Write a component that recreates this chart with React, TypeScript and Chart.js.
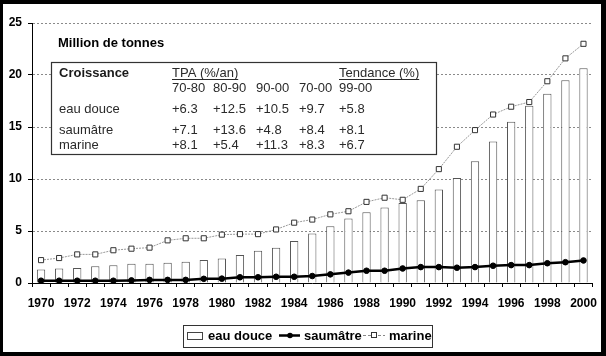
import React, { useEffect, useRef } from 'react';
import { Chart, registerables } from 'chart.js';

Chart.register(...registerables);

const years = [
  '1970', '1971', '1972', '1973', '1974', '1975', '1976', '1977', '1978', '1979',
  '1980', '1981', '1982', '1983', '1984', '1985', '1986', '1987', '1988', '1989',
  '1990', '1991', '1992', '1993', '1994', '1995', '1996', '1997', '1998', '1999', '2000',
];

const eauDouce = [
  1.3, 1.4, 1.45, 1.6, 1.7, 1.85, 1.85, 1.95, 2.05, 2.2,
  2.35, 2.7, 3.1, 3.4, 4.05, 4.75, 5.45, 6.2, 6.8, 7.25,
  7.7, 7.95, 9.0, 10.1, 11.7, 13.6, 15.5, 17.05, 18.2, 19.5, 20.65,
];

const saumatre = [
  0.22, 0.22, 0.22, 0.22, 0.22, 0.25, 0.3, 0.3, 0.3, 0.4,
  0.42, 0.55, 0.55, 0.6, 0.6, 0.67, 0.83, 1.0, 1.18, 1.18,
  1.4, 1.53, 1.53, 1.47, 1.53, 1.66, 1.72, 1.72, 1.9, 2.0, 2.17,
];

const marine = [
  2.2, 2.4, 2.75, 2.75, 3.15, 3.3, 3.4, 4.1, 4.3, 4.3,
  4.65, 4.7, 4.7, 5.15, 5.8, 6.1, 6.6, 6.9, 7.8, 8.2,
  8.0, 9.05, 10.95, 13.1, 14.7, 16.2, 16.95, 17.4, 19.4, 21.6, 23.0,
];

const seriesNames = ['eau douce', 'saumâtre', 'marine'];
const yMin = 0;
const yMax = 25;
const yStep = 5;

const tableUnit = 'Million de tonnes';
const tableHeader = 'Croissance';
const tpaHeader = 'TPA (%/an)';
const trendHeader = 'Tendance (%)';
const periods = ['70-80', '80-90', '90-00', '70-00', '99-00'];
const growthEauDouce = ['+6.3', '+12.5', '+10.5', '+9.7', '+5.8'];
const growthSaumatre = ['+7.1', '+13.6', '+4.8', '+8.4', '+8.1'];
const growthMarine = ['+8.1', '+5.4', '+11.3', '+8.3', '+6.7'];

const FONT = '"Liberation Sans", Arial, Helvetica, sans-serif';

const framePlugin = {
  id: 'framePlugin',
  beforeDraw(chart: any) {
    const ctx = chart.ctx;
    ctx.save();
    ctx.fillStyle = '#000';
    ctx.fillRect(0, 0, chart.width, chart.height);
    ctx.fillStyle = '#fff';
    ctx.fillRect(3, 4, 598, 348);
    ctx.restore();
  },
  afterDraw(chart: any) {
    const ctx = chart.ctx;
    ctx.save();
    // ---- Table box ----
    ctx.fillStyle = '#000';
    ctx.textBaseline = 'middle';
    ctx.textAlign = 'left';
    ctx.font = `bold 13px ${FONT}`;
    ctx.fillText(tableUnit, 58, 43);

    ctx.fillStyle = '#fff';
    ctx.fillRect(51, 62, 385, 92);
    ctx.strokeStyle = '#333';
    ctx.lineWidth = 1.2;
    ctx.strokeRect(51.5, 62.5, 385, 92);

    ctx.fillStyle = '#1a1a1a';
    ctx.font = `bold 13px ${FONT}`;
    ctx.fillText(tableHeader, 59, 73);
    ctx.font = `13px ${FONT}`;
    ctx.fillStyle = '#2a2a2a';
    const colX = [172, 213, 256, 299, 339];
    ctx.fillText(tpaHeader, colX[0], 73);
    ctx.fillText(trendHeader, colX[4], 73);
    ctx.strokeStyle = '#2a2a2a';
    ctx.lineWidth = 1;
    const w1 = ctx.measureText(tpaHeader).width;
    const w2 = ctx.measureText(trendHeader).width;
    ctx.beginPath();
    ctx.moveTo(colX[0], 79.5);
    ctx.lineTo(colX[0] + w1, 79.5);
    ctx.moveTo(colX[4], 79.5);
    ctx.lineTo(colX[4] + w2, 79.5);
    ctx.stroke();
    periods.forEach((p, i) => ctx.fillText(p, colX[i], 88));
    const rows = [growthEauDouce, growthSaumatre, growthMarine];
    const rowY = [109, 130, 145];
    rows.forEach((vals, r) => {
      ctx.fillText(seriesNames[r], 59, rowY[r]);
      vals.forEach((v, i) => ctx.fillText(v, colX[i], rowY[r]));
    });

    // ---- Legend ----
    ctx.strokeStyle = '#333';
    ctx.lineWidth = 1;
    ctx.strokeRect(183.5, 325.5, 249, 22);
    ctx.fillStyle = '#fff';
    ctx.fillRect(187, 332, 15, 7);
    ctx.strokeStyle = '#444';
    ctx.strokeRect(187.5, 332.5, 15, 7);
    ctx.fillStyle = '#000';
    ctx.font = `bold 13px ${FONT}`;
    ctx.fillText(seriesNames[0], 208, 336.5);
    // saumatre
    ctx.strokeStyle = '#000';
    ctx.lineWidth = 2.5;
    ctx.beginPath();
    ctx.moveTo(279, 335.5);
    ctx.lineTo(300, 335.5);
    ctx.stroke();
    ctx.beginPath();
    ctx.arc(290, 335.5, 2.8, 0, Math.PI * 2);
    ctx.fill();
    ctx.fillText(seriesNames[1], 304, 336.5);
    // marine
    ctx.strokeStyle = '#888';
    ctx.lineWidth = 1;
    ctx.setLineDash([3, 2]);
    ctx.beginPath();
    ctx.moveTo(363, 335.5);
    ctx.lineTo(385, 335.5);
    ctx.stroke();
    ctx.setLineDash([]);
    ctx.fillStyle = '#fff';
    ctx.fillRect(371.5, 332.5, 5, 5);
    ctx.strokeStyle = '#333';
    ctx.strokeRect(371.5, 332.5, 5, 5);
    ctx.fillStyle = '#000';
    ctx.fillText(seriesNames[2], 389, 336.5);
    ctx.restore();
  },
};

export default function App() {
  const canvasRef = useRef<HTMLCanvasElement | null>(null);

  useEffect(() => {
    if (!canvasRef.current) return;
    const tickFont = { family: FONT, size: 12, weight: 'bold' as const };
    const chart = new Chart(canvasRef.current, {
      type: 'bar',
      data: {
        labels: years,
        datasets: [
          {
            type: 'line',
            label: seriesNames[1],
            data: saumatre,
            borderColor: '#000',
            backgroundColor: '#000',
            borderWidth: 2.5,
            pointRadius: 2.8,
            pointBackgroundColor: '#000',
            pointBorderColor: '#000',
            pointBorderWidth: 1,
            tension: 0,
            order: 1,
          },
          {
            type: 'line',
            label: seriesNames[2],
            data: marine,
            borderColor: '#999',
            borderWidth: 1,
            borderDash: [2, 1],
            pointStyle: 'rect',
            pointRadius: 3.6,
            pointBackgroundColor: '#fff',
            pointBorderColor: '#333',
            pointBorderWidth: 1,
            tension: 0,
            order: 2,
          },
          {
            type: 'bar',
            label: seriesNames[0],
            data: eauDouce,
            backgroundColor: '#fff',
            borderColor: '#555',
            borderWidth: 1,
            categoryPercentage: 1,
            barPercentage: 0.46,
            order: 3,
          },
        ] as any,
      },
      plugins: [framePlugin],
      options: {
        responsive: false,
        animation: false,
        devicePixelRatio: 1,
        layout: { padding: { left: 3, top: 23, right: 10, bottom: 0 } },
        plugins: {
          legend: { display: false },
          tooltip: { enabled: false },
          title: { display: false },
        },
        scales: {
          x: {
            offset: true,
            grid: {
              offset: true,
              drawOnChartArea: false,
              drawTicks: true,
              tickLength: 4,
              tickColor: '#000',
              color: '#000',
            },
            border: { color: '#000', width: 1 },
            ticks: {
              autoSkip: false,
              maxRotation: 0,
              minRotation: 0,
              padding: 9,
              color: '#000',
              font: tickFont,
              callback: (_v: any, i: number) => (i % 2 === 0 ? years[i] : ''),
            },
            afterFit: (s: any) => {
              s.height = 73;
            },
          },
          y: {
            min: yMin,
            max: yMax,
            ticks: { stepSize: yStep, padding: 6, color: '#000', font: tickFont },
            grid: {
              color: (c: any) => (c.tick && c.tick.value === 0 ? 'rgba(0,0,0,0)' : '#8a8a8a'),
              tickColor: '#000',
              tickLength: 4,
              lineWidth: 1,
            },
            border: { color: '#000', width: 1, dash: [2, 2] },
            afterFit: (s: any) => {
              s.width = 29;
            },
          },
        },
      } as any,
    });
    return () => chart.destroy();
  }, []);

  return (
    <div style={{ position: 'absolute', left: 0, top: 0, width: 606, height: 356 }}>
      <canvas ref={canvasRef} width={606} height={356} style={{ display: 'block', width: 606, height: 356 }} />
    </div>
  );
}
